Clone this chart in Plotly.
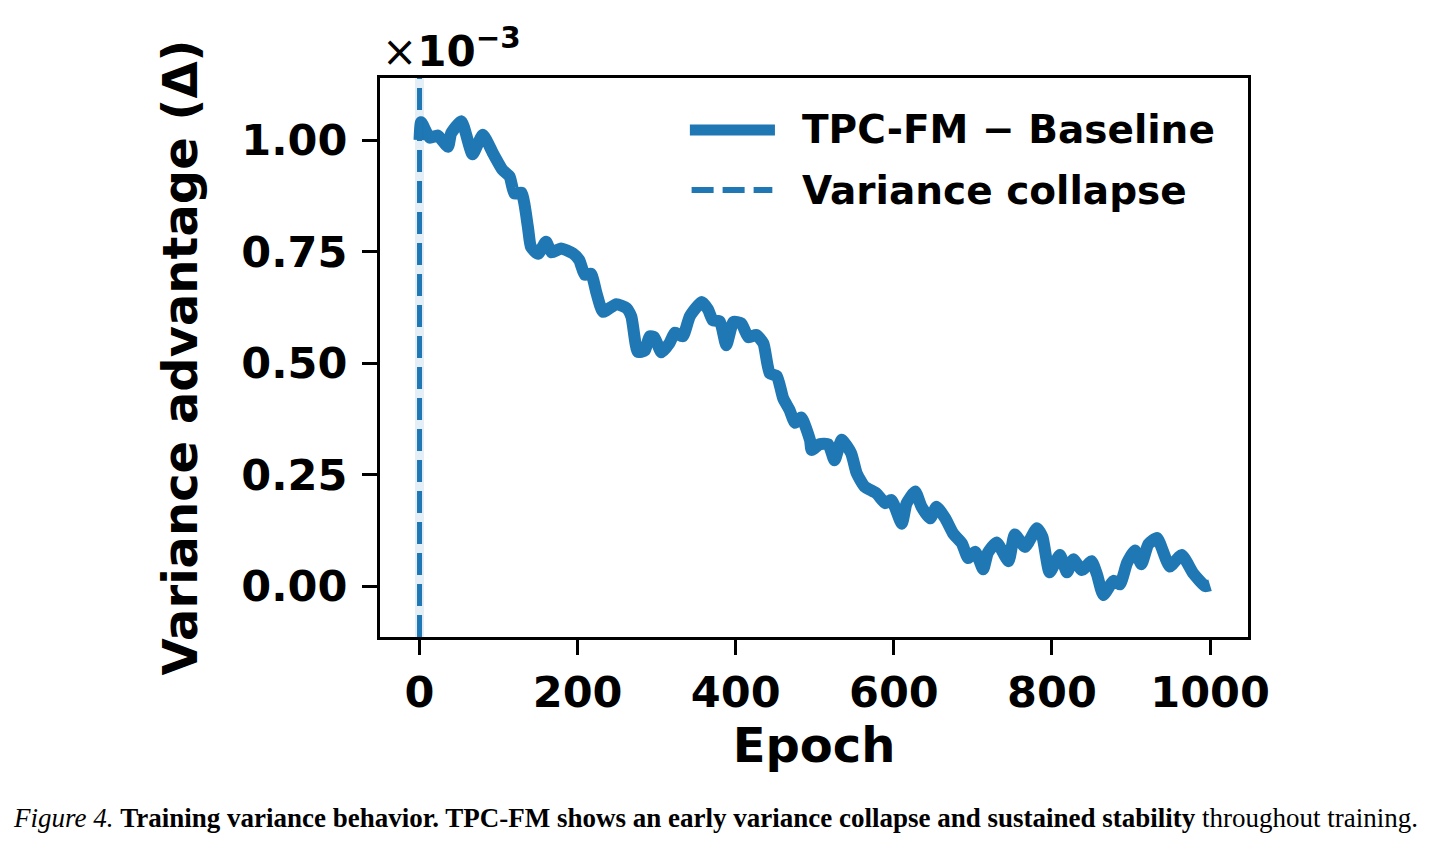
import plotly.graph_objects as go

# ---- data (values in units of 1e-3) ----
epochs = [0, 2, 13, 23, 36, 40, 53, 67, 80, 93, 105, 114, 120, 129, 137, 141, 150, 160, 167, 179,
          194, 202, 209, 217, 224, 232, 249, 262, 268, 276, 285, 291, 297, 306, 316, 323, 333, 342,
          357, 365, 371, 380, 388, 397, 407, 416, 426, 435, 443, 452, 460, 468, 475, 483, 494, 496,
          506, 517, 525, 534, 546, 553, 563, 578, 589, 597, 610, 616, 627, 635, 646, 654, 665, 675,
          686, 694, 703, 713, 719, 730, 745, 753, 766, 781, 788, 797, 810, 819, 827, 838, 850, 857,
          865, 878, 886, 895, 905, 913, 922, 933, 949, 964, 979, 994, 1000]
delta_e3 = [1.00, 1.040, 1.005, 1.010, 0.985, 1.015, 1.042, 0.968, 1.012, 0.970, 0.933, 0.918, 0.880,
            0.882, 0.806, 0.760, 0.745, 0.772, 0.748, 0.757, 0.746, 0.731, 0.698, 0.700, 0.656, 0.615,
            0.632, 0.623, 0.604, 0.525, 0.528, 0.560, 0.558, 0.524, 0.544, 0.568, 0.560, 0.605, 0.637,
            0.620, 0.596, 0.593, 0.540, 0.592, 0.589, 0.558, 0.563, 0.544, 0.477, 0.471, 0.421, 0.395,
            0.366, 0.378, 0.327, 0.305, 0.318, 0.318, 0.282, 0.328, 0.298, 0.253, 0.223, 0.208, 0.186,
            0.193, 0.140, 0.185, 0.212, 0.178, 0.152, 0.178, 0.152, 0.118, 0.096, 0.063, 0.077, 0.038,
            0.075, 0.098, 0.056, 0.116, 0.088, 0.130, 0.110, 0.031, 0.070, 0.031, 0.060, 0.036, 0.056,
            0.026, -0.020, 0.012, 0.004, 0.052, 0.080, 0.049, 0.094, 0.108, 0.044, 0.070, 0.028, 0.000,
            0.002]
collapse_epoch = [0]
x_ticks = [0, 200, 400, 600, 800, 1000]
y_ticks = [0.00, 0.25, 0.50, 0.75, 1.00]
series_name = "TPC-FM \u2212 Baseline"
collapse_name = "Variance collapse"

BLUE = "#1f77b4"
FONT = "DejaVu Sans"

fig = go.Figure()
fig.add_trace(go.Scatter(x=epochs, y=delta_e3, mode="lines", name=series_name,
                         line=dict(color=BLUE, width=12, shape="spline", smoothing=0.5),
                         showlegend=False))

# vertical dashed line at collapse epoch
for ce in collapse_epoch:
    fig.add_shape(type="line", xref="x", yref="paper", x0=ce, x1=ce, y0=0, y1=1,
                  line=dict(color="rgba(31,119,180,0.12)", width=9), layer="above")
    fig.add_shape(type="line", xref="x", yref="paper", x0=ce, x1=ce, y0=0, y1=1,
                  line=dict(color=BLUE, width=5, dash="22px,9px"), layer="above")

# manual legend (matplotlib-like long samples)
fig.add_shape(type="line", xref="paper", yref="paper", x0=0.357, x1=0.455, y0=0.907, y1=0.907,
              line=dict(color=BLUE, width=11))
fig.add_shape(type="line", xref="paper", yref="paper", x0=0.359, x1=0.452, y0=0.7996, y1=0.7996,
              line=dict(color=BLUE, width=6, dash="22px,9px"))
fig.add_annotation(xref="paper", yref="paper", x=0.4839, y=0.907, xanchor="left", yanchor="middle",
                   text=series_name, showarrow=False,
                   font=dict(family=FONT, size=39, color="black", weight="bold"))
fig.add_annotation(xref="paper", yref="paper", x=0.4839, y=0.7996, xanchor="left", yanchor="middle",
                   text=collapse_name, showarrow=False,
                   font=dict(family=FONT, size=39, color="black", weight="bold"))

# offset text
fig.add_annotation(xref="paper", yref="paper", x=0.0, y=1.0, xanchor="left", yanchor="bottom",
                   text="\u00d7<b>10<sup>\u22123</sup></b>", showarrow=False,
                   font=dict(family=FONT, size=42, color="black"))

# caption
fig.add_annotation(xref="paper", yref="paper", x=0.386, y=-0.3238, xanchor="center", yanchor="middle",
                   text="<i>Figure 4.</i> <b>Training variance behavior. TPC-FM shows an early variance "
                        "collapse and sustained stability</b> throughout training.",
                   showarrow=False,
                   font=dict(family="Liberation Serif", size=27, color="black"))

axis_common = dict(showline=True, linecolor="black", linewidth=3, mirror=True,
                   ticks="outside", ticklen=15, tickwidth=3, tickcolor="black",
                   showgrid=False, zeroline=False,
                   tickfont=dict(family=FONT, size=43, color="black", weight="bold"))

fig.update_xaxes(range=[-50, 1048], tickvals=x_ticks, ticktext=[str(v) for v in x_ticks],
                 title=dict(text="Epoch", font=dict(family=FONT, size=48, color="black", weight="bold"),
                            standoff=3),
                 **axis_common)
fig.update_yaxes(range=[-0.114, 1.139], tickvals=y_ticks, ticktext=[f"{v:.2f}" for v in y_ticks],
                 ticklabelstandoff=6,
                 title=dict(text="Variance advantage (\u0394)",
                            font=dict(family=FONT, size=48, color="black", weight="bold"),
                            standoff=29),
                 **axis_common)

fig.update_layout(width=1431, height=849, margin=dict(l=380, r=183, t=78, b=212),
                  paper_bgcolor="white", plot_bgcolor="white", showlegend=False)

fig.write_html("out.html")
